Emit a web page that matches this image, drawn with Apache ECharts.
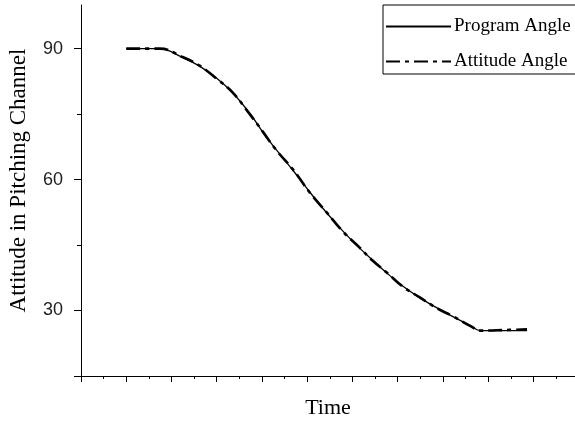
<!DOCTYPE html>
<html lang="en">
<head>
    <meta charset="UTF-8">
    <title>Attitude in Pitching Channel</title>
    <script src="https://cdn.jsdelivr.net/npm/echarts@6/dist/echarts.min.js"></script>
</head>
<style>
    *{
        margin: 0;
        padding: 0;
    }
    html,body{
        width: 100%;
        height: 100%;
        overflow: hidden;
        background: #fff;
    }
    .container{
        width: 575px;
        height: 422px;
    }
</style>
<body>
<div class="container"></div>
<script>
   // values (x in tick units, y in degrees)
   let seriesNames = ['Program Angle', 'Attitude Angle'];
   let programTime = [1.0, 1.73, 2.24, 2.62, 3.0, 3.35, 3.73, 4.01, 4.32, 4.68, 5.06, 5.43, 5.79, 6.16, 6.45, 6.76, 7.11, 7.49, 7.87, 8.22, 8.6, 8.82, 9.86];
   let programAngle = [90, 90, 88.0, 86.0, 83.2, 79.9, 75.2, 71.0, 66.8, 62.2, 57.1, 52.4, 48.2, 44.3, 41.5, 38.6, 35.6, 32.9, 30.6, 28.6, 26.6, 25.4, 25.4];
   let attitudeTime = [1.0, 1.75, 2.24, 2.62, 3.0, 3.35, 3.73, 4.01, 4.32, 4.68, 5.06, 5.43, 5.79, 6.16, 6.45, 6.76, 7.11, 7.49, 7.87, 8.22, 8.6, 8.85, 9.3, 9.86];
   let attitudeAngle = [90, 90, 88.1, 86.1, 83.1, 80.0, 75.0, 71.1, 66.7, 62.4, 57.0, 52.5, 48.1, 44.4, 41.4, 38.7, 35.5, 33.0, 30.5, 28.7, 26.5, 25.4, 25.5, 25.7];
   let yLabelValues = [30, 60, 90];

   let container = document.querySelector('.container');
   let mycharts = echarts.init(container);

   let serif = 'Liberation Serif';
   let sans = 'Liberation Sans';

   let options = {
       animation: false,
       backgroundColor: '#fff',
       grid: {
           left: 81,
           right: 0,
           top: 5,
           bottom: 46,
           outerBoundsMode: 'none',
           containLabel: false
       },
       legend: {
           orient: 'vertical',
           left: 383,
           top: 5,
           padding: [12, 10, 3, 2],
           itemWidth: 65,
           itemHeight: 14,
           itemGap: 16,
           borderColor: '#000',
           borderWidth: 1,
           itemStyle: { opacity: 0 },
           textStyle: {
               fontFamily: serif,
               fontSize: 19,
               color: '#000',
               padding: [0, 0, 0, -2]
           },
           data: seriesNames
       },
       xAxis: {
           type: 'value',
           min: 0,
           max: 10.92,
           interval: 1,
           name: 'Time',
           nameLocation: 'middle',
           nameGap: 21,
           nameTextStyle: {
               fontFamily: serif,
               fontSize: 22,
               color: '#000'
           },
           axisLine: { lineStyle: { color: '#000', width: 1 } },
           axisTick: { show: true, length: 6, lineStyle: { color: '#000' } },
           minorTick: { show: true, splitNumber: 2, length: 3, lineStyle: { color: '#000' } },
           axisLabel: { show: false },
           splitLine: { show: false }
       },
       yAxis: [{
           type: 'value',
           min: 15,
           max: 100,
           name: 'Attitude in Pitching Channel',
           nameLocation: 'middle',
           nameGap: 51,
           nameTextStyle: {
               fontFamily: serif,
               fontSize: 23,
               color: '#000',
               padding: [0, 0, 0, 20]
           },
           axisLine: { show: true, lineStyle: { color: '#000', width: 1 } },
           axisTick: { show: true, length: 7, customValues: [15, 30, 60, 90], lineStyle: { color: '#000' } },
           axisLabel: {
               customValues: yLabelValues,
               margin: 18,
               fontFamily: sans,
               fontSize: 18,
               color: '#222'
           },
           splitLine: { show: false }
       }, {
           type: 'value',
           min: 15,
           max: 100,
           position: 'left',
           axisLine: { show: false },
           axisTick: { show: true, length: 4, customValues: [45, 75], lineStyle: { color: '#000' } },
           axisLabel: { show: false },
           splitLine: { show: false }
       }],
       series: [{
           name: seriesNames[1],
           type: 'line',
           symbol: 'none',
           smooth: 0.4,
           color: '#000',
           z: 2,
           lineStyle: { color: '#000', width: 2.6, type: [14, 5, 4, 5] },
           data: attitudeTime.map((t, i) => [t, attitudeAngle[i]])
       }, {
           name: seriesNames[0],
           type: 'line',
           symbol: 'none',
           smooth: 0.4,
           color: '#000',
           z: 3,
           lineStyle: { color: '#000', width: 1.3 },
           data: programTime.map((t, i) => [t, programAngle[i]])
       }]
   };

   mycharts.setOption(options);
</script>
</body>
</html>
